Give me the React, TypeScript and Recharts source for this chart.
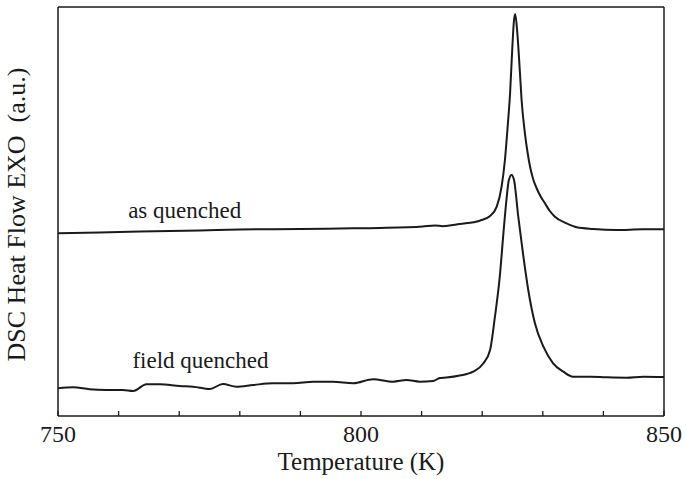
import React from 'react';
import { LineChart, Line, XAxis, YAxis, ReferenceDot } from 'recharts';

const asQuenchedT = [750, 756.9, 763.5, 773.4, 780, 789.9, 796.5, 803.1, 810.2, 812.2, 813.5, 816.3, 819.6, 821.3, 822.4, 823.2, 823.75, 824.2, 824.6, 824.95, 825.25, 825.45, 825.8, 826.2, 826.5, 827.05, 827.5, 827.9, 828.4, 829.0, 829.6, 830.35, 831.1, 832.0, 833.9, 835.6, 838.3, 842.2, 846.5, 850];
const asQuenchedV = [182.7, 183.5, 184.5, 185.5, 186.5, 187, 187.5, 188, 189.5, 190.5, 189.8, 192, 195.3, 200, 209.3, 229.3, 256, 289.3, 322.7, 366, 396, 402, 382.7, 346, 316, 282.7, 263, 249.3, 237, 227.5, 220, 212.7, 205.5, 199.3, 192.7, 188.7, 187, 186, 186.7, 186.7];

const fieldQuenchedT = [750, 752.5, 755.2, 758, 760.7, 762.4, 764.6, 766.8, 770.1, 772.3, 775.05, 777.2, 779.45, 782.2, 785.5, 788.8, 792.1, 795.4, 798.7, 802, 805.3, 807.5, 809.7, 811.9, 813, 814.1, 816.3, 818.5, 820.2, 821.3, 822.1, 822.9, 823.5, 824.0, 824.4, 824.85, 825.25, 825.95, 826.8, 827.6, 828.7, 830.1, 831.7, 833.4, 835.0, 837.8, 840.5, 843.8, 846.6, 850];
const fieldQuenchedV = [27.7, 28.7, 26.7, 26, 26, 25, 31.7, 31.7, 30, 29.3, 27, 32, 29.3, 31, 32.7, 32.7, 34.3, 34.3, 32.7, 36.7, 34.3, 36, 34.3, 35, 38, 38.5, 40.5, 44.3, 52.7, 66, 99.3, 139.3, 182.7, 216, 236, 241, 236, 199.3, 159.3, 126, 92.7, 69.3, 52.7, 44.3, 39.3, 39.3, 38.7, 38.3, 39.3, 39];

const xTicks = [750, 760, 770, 780, 790, 800, 810, 820, 830, 840, 850];
const majorTicks = [750, 800, 850];
const xLabel = 'Temperature (K)';
const yLabel = 'DSC Heat Flow EXO  (a.u.)';
const curveLabels = [
  { name: 'as quenched', t: 770.9, v: 198.3 },
  { name: 'field quenched', t: 773.5, v: 48 },
];

const asQuenched = asQuenchedT.map((t, i) => ({ t, v: asQuenchedV[i] }));
const fieldQuenched = fieldQuenchedT.map((t, i) => ({ t, v: fieldQuenchedV[i] }));

const FONT = "'Liberation Serif', 'DejaVu Serif', serif";
const INK = '#1a1a1a';

const Tick = (props: any) => {
  const { x, y, payload } = props;
  const major = majorTicks.includes(payload.value);
  return (
    <g>
      <line x1={x} y1={y} x2={x} y2={y - 5} stroke={INK} strokeWidth={1.3} />
      {major && (
        <text x={x} y={y + 26} textAnchor="middle" fontFamily={FONT} fontSize={24} fill={INK}>
          {payload.value}
        </text>
      )}
    </g>
  );
};

const XLabel = (props: any) => {
  const vb = props.viewBox;
  return (
    <text x={vb.x + vb.width / 2} y={vb.y + 54} textAnchor="middle" fontFamily={FONT} fontSize={25} fill={INK}>
      {xLabel}
    </text>
  );
};

const YLabel = (props: any) => {
  const vb = props.viewBox;
  const cx = 25;
  const cy = vb.y + vb.height / 2 + 3;
  return (
    <text
      x={cx}
      y={cy}
      transform={`rotate(-90 ${cx} ${cy})`}
      textAnchor="middle"
      fontFamily={FONT}
      fontSize={26}
      style={{ whiteSpace: 'pre' }}
      fill={INK}
    >
      {yLabel}
    </text>
  );
};

const makeTextShape = (text: string) => (p: any) => (
  <text x={p.cx} y={p.cy} textAnchor="middle" fontFamily={FONT} fontSize={23} fill={INK}>
    {text}
  </text>
);

export default function App() {
  return (
    <div style={{ position: 'absolute', left: 0, top: 0, background: '#fff' }}>
      <LineChart width={686} height={479} margin={{ top: 6, right: 21, bottom: 0, left: 57 }}>
        <XAxis
          dataKey="t"
          type="number"
          domain={[750, 850]}
          ticks={xTicks}
          interval={0}
          tickSize={0}
          tickMargin={0}
          tick={<Tick />}
          axisLine={{ stroke: INK, strokeWidth: 1.5 }}
          tickLine={false}
          height={63}
          allowDataOverflow
          label={XLabel}
        />
        <XAxis
          xAxisId="top"
          orientation="top"
          type="number"
          domain={[750, 850]}
          tick={false}
          tickLine={false}
          height={1}
          axisLine={{ stroke: INK, strokeWidth: 1.5 }}
        />
        <YAxis
          type="number"
          domain={[0, 409]}
          tick={false}
          tickLine={false}
          width={1}
          axisLine={{ stroke: INK, strokeWidth: 1.5 }}
          allowDataOverflow
          label={YLabel}
        />
        <YAxis
          yAxisId="right"
          orientation="right"
          type="number"
          domain={[0, 409]}
          tick={false}
          tickLine={false}
          width={1}
          axisLine={{ stroke: INK, strokeWidth: 1.5 }}
        />
        <Line
          data={asQuenched}
          dataKey="v"
          type="monotone"
          stroke={INK}
          strokeWidth={2}
          dot={false}
          activeDot={false}
          isAnimationActive={false}
        />
        <Line
          data={fieldQuenched}
          dataKey="v"
          type="monotone"
          stroke={INK}
          strokeWidth={2}
          dot={false}
          activeDot={false}
          isAnimationActive={false}
        />
        {curveLabels.map((c) => (
          <ReferenceDot key={c.name} x={c.t} y={c.v} r={0} shape={makeTextShape(c.name)} />
        ))}
      </LineChart>
    </div>
  );
}
